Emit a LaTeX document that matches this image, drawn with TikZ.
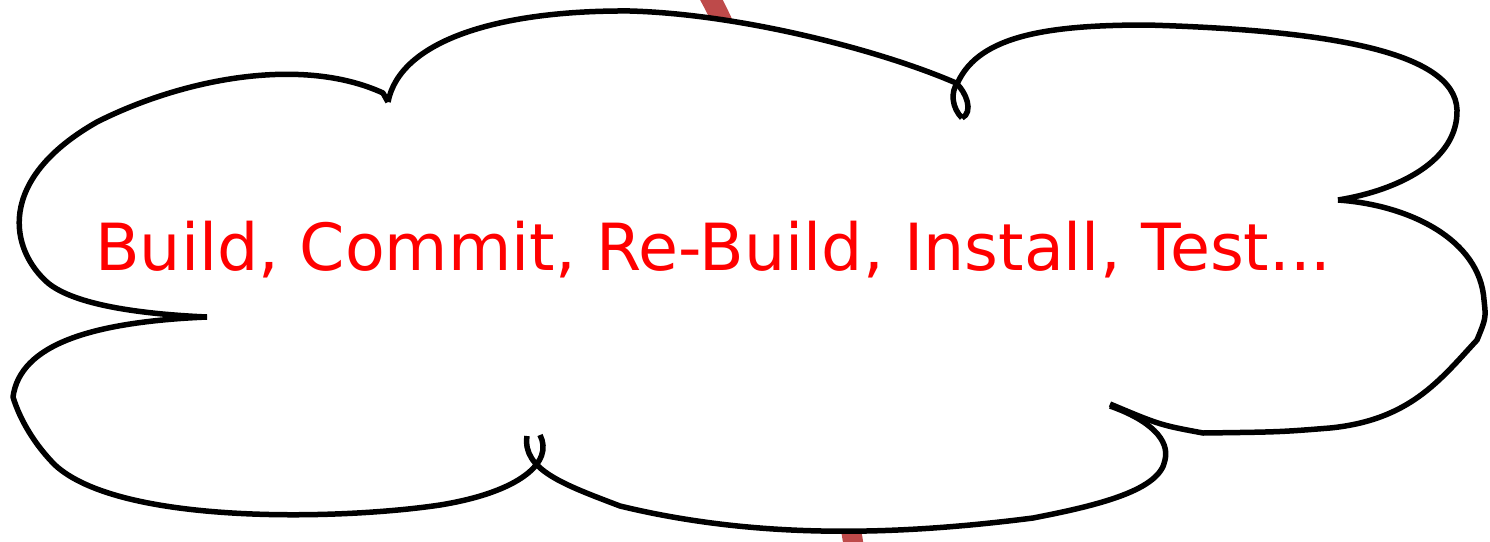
\documentclass[tikz,border=0pt]{standalone}
\usepackage{fontspec}
\newfontfamily\dejavu{DejaVu Sans}
\definecolor{redline}{RGB}{190,74,74}
\definecolor{textred}{RGB}{255,0,0}
\begin{document}
\begin{tikzpicture}[x=1pt,y=-1pt,
  cloudstroke/.style={draw=black,line width=5.5pt,line join=round,line cap=butt},
  labeltext/.style={font=\dejavu\fontsize{65}{65}\selectfont,text=textred,inner sep=0pt,anchor=base west}]
\useasboundingbox (0,0) rectangle (1490,541);
\clip (0,0) rectangle (1490,541);
% background line
\draw[line width=20pt, draw=redline] (706,-10) .. controls (780,120) and (830,400) .. (856,560);
% cloud interior
\fill[white] (207,317) .. controls (140,314) and (75,305) .. (48,283)
  .. controls (10,250) and (-5,180) .. (97,122)
  .. controls (180,80) and (300,55) .. (383,93)
  -- (388,100) .. controls (400,40) and (500,10) .. (630,11)
  .. controls (740,14) and (880,50) .. (956,83)
  -- (958,82) .. controls (980,35) and (1050,25) .. (1147,25)
  .. controls (1320,30) and (1455,50) .. (1457,110)
  .. controls (1458,160) and (1400,190) .. (1338,200)
  .. controls (1410,205) and (1480,240) .. (1484,300)
  .. controls (1486,318) .. (1477,340)
  .. controls (1440,380) and (1410,420) .. (1330,428)
  .. controls (1280,432) .. (1203,433)
  .. controls (1160,425) .. (1110,404)
  -- (1110,406) .. controls (1150,420) and (1170,440) .. (1165,460)
  .. controls (1160,490) and (1100,505) .. (1033,518)
  .. controls (900,535) and (760,540) .. (620,506)
  .. controls (565,485) and (522,470) .. (527,436)
  -- (540,435) .. controls (554,462) and (520,492) .. (440,505)
  .. controls (340,520) and (120,525) .. (55,465)
  .. controls (35,445) and (20,420) .. (13,397)
  .. controls (20,345) and (90,322) .. (207,317) -- cycle;
% cloud strokes
\draw[cloudstroke] (207,317) .. controls (140,314) and (75,305) .. (48,283)
  .. controls (10,250) and (-5,180) .. (97,122)
  .. controls (180,80) and (300,55) .. (383,93) -- (388,102);
\draw[cloudstroke] (388,102) .. controls (400,40) and (500,10) .. (630,11)
  .. controls (740,14) and (880,50) .. (956,83)
  .. controls (966,92) and (974,112) .. (962,118);
\draw[cloudstroke] (962,118) .. controls (952,108) and (950,92) .. (958,82)
  .. controls (980,35) and (1050,25) .. (1147,25)
  .. controls (1320,30) and (1455,50) .. (1457,110)
  .. controls (1458,160) and (1400,190) .. (1338,200);
\draw[cloudstroke] (1338,200) .. controls (1410,205) and (1480,240) .. (1484,300)
  .. controls (1486,318) .. (1477,340)
  .. controls (1440,380) and (1410,420) .. (1330,428)
  .. controls (1280,432) .. (1203,433)
  .. controls (1160,425) .. (1110,404);
\draw[cloudstroke] (1110,406) .. controls (1150,420) and (1170,440) .. (1165,460)
  .. controls (1160,490) and (1100,505) .. (1033,518)
  .. controls (900,535) and (760,540) .. (620,506)
  .. controls (565,485) and (522,470) .. (527,436);
\draw[cloudstroke] (540,435) .. controls (554,462) and (520,492) .. (440,505)
  .. controls (340,520) and (120,525) .. (55,465)
  .. controls (35,445) and (20,420) .. (13,397)
  .. controls (20,345) and (90,322) .. (207,317);
% label
\node[labeltext] (label) at (95,270) {Build, Commit, Re-Build, Install, Test...};
\end{tikzpicture}
\end{document}
